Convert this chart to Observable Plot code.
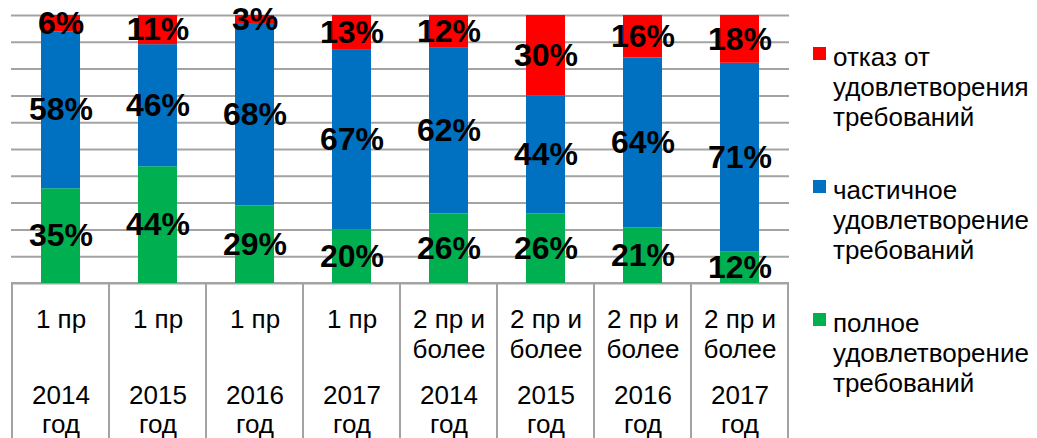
<!DOCTYPE html>
<html>
<head>
<meta charset="utf-8">
<script src="https://cdn.jsdelivr.net/npm/d3@7"></script>
<script src="https://cdn.jsdelivr.net/npm/@observablehq/plot@0.6"></script>
<style>
  html, body { margin: 0; padding: 0; background: #fff; }
  #wrap { position: relative; width: 1037px; height: 438px; overflow: hidden; font-family: "Liberation Sans", Arial, sans-serif; }
  #legend { position: absolute; left: 813px; top: 42px; }
  .item { display: flex; align-items: flex-start; margin-bottom: 43px; }
  .sw { width: 13px; height: 13px; margin-top: 5px; margin-right: 7px; flex: none; }
  .lab { font-size: 26px; line-height: 30px; color: #000; width: 205px; }
</style>
</head>
<body>
<div id="wrap"><div id="legend"></div></div>
<script>
// ---- data ----
const groups = ["1 пр", "1 пр", "1 пр", "1 пр", "2 пр и\nболее", "2 пр и\nболее", "2 пр и\nболее", "2 пр и\nболее"];
const years = ["2014\nгод", "2015\nгод", "2016\nгод", "2017\nгод", "2014\nгод", "2015\nгод", "2016\nгод", "2017\nгод"];
const series = ["полное удовлетворение требований", "частичное удовлетворение требований", "отказ от удовлетворения требований"];
const full = [35, 44, 29, 20, 26, 26, 21, 12];
const partial = [58, 46, 68, 67, 62, 44, 64, 71];
const refusal = [6, 11, 3, 13, 12, 30, 16, 18];
const colors = ["#00B050", "#0070C0", "#FF0000"];

const idx = d3.range(groups.length);
const valuesBySeries = [full, partial, refusal];
const data = [];
idx.forEach(i => {
  series.forEach((s, k) => data.push({i, series: s, value: valuesBySeries[k][i]}));
});

const gridColor = "#a3a3a3";

const chart = Plot.plot({
  width: 1037,
  height: 438,
  marginLeft: 11,
  marginRight: 248,
  marginTop: 15,
  marginBottom: 155,
  style: {fontFamily: "'Liberation Sans', Arial, sans-serif", background: "transparent", overflow: "visible"},
  x: {type: "band", domain: idx, padding: 0, axis: null},
  y: {domain: [0, 1], axis: null},
  color: {domain: series, range: colors},
  marks: [
    Plot.gridY(d3.range(11).map(k => k / 10), {stroke: gridColor, strokeOpacity: 1, strokeWidth: 2}),
    Plot.barY(idx, {x: d => d, y1: 0, y2: -0.6, fill: "none", stroke: gridColor, strokeWidth: 2}),
    Plot.barY(data, Plot.stackY({offset: "normalize", x: "i", y: "value", z: "series", fill: "series", insetLeft: 29, insetRight: 29})),
    Plot.text(data, Plot.stackY({offset: "normalize", x: "i", y: "value", z: "series", text: d => d.value + "%", fontSize: 32, fontWeight: "bold", fill: "#000"})),
    Plot.text(idx, {x: d => d, text: i => groups[i], frameAnchor: "bottom", lineAnchor: "top", dy: 23, fontSize: 26, lineHeight: 1.154, fill: "#000"}),
    Plot.text(idx, {x: d => d, text: i => years[i], frameAnchor: "bottom", lineAnchor: "top", dy: 100, fontSize: 26, lineHeight: 1.115, fill: "#000"})
  ]
});
document.getElementById("wrap").prepend(chart);

// legend (top to bottom: refusal, partial, full)
const legend = d3.select("#legend");
[2, 1, 0].forEach(k => {
  const item = legend.append("div").attr("class", "item");
  item.append("div").attr("class", "sw").style("background", colors[k]);
  item.append("div").attr("class", "lab").text(series[k]);
});
</script>
</body>
</html>
